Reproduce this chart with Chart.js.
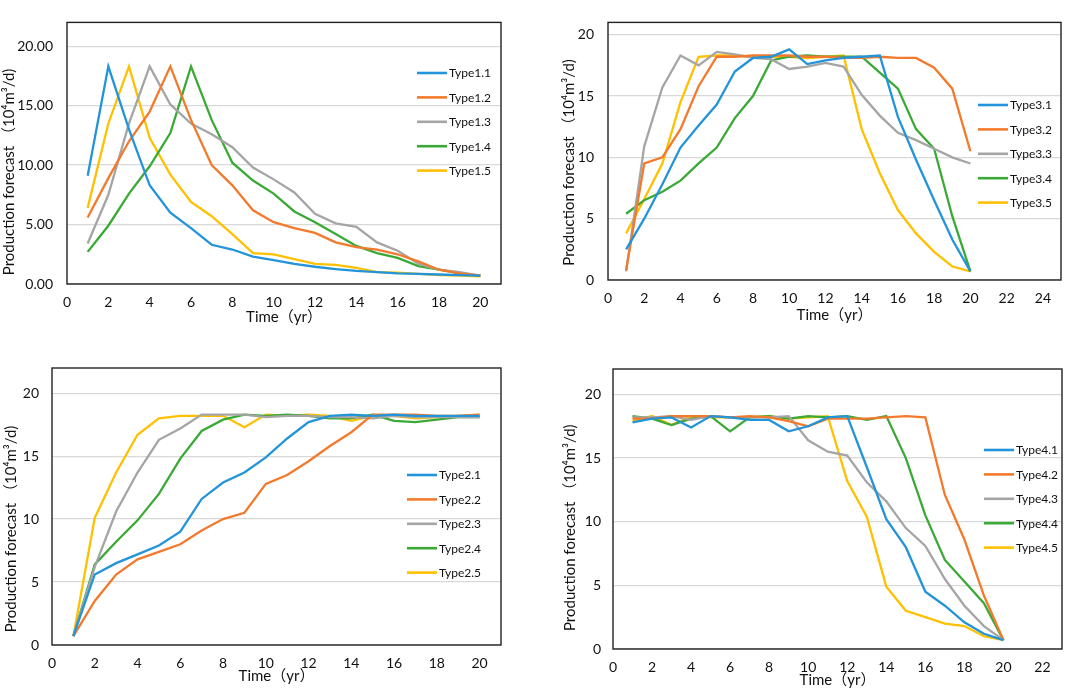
<!DOCTYPE html>
<html>
<head>
<meta charset="utf-8">
<script src="https://cdn.jsdelivr.net/npm/chart.js@4.4.1/dist/chart.umd.min.js"></script>
<style>
  html, body { margin: 0; padding: 0; background: #fff; }
  body { width: 1065px; height: 688px; position: relative; overflow: hidden; }
  .panel { position: absolute; }
</style>
</head>
<body>
<div class="panel" style="left:0px;top:0px;width:530px;height:326px"><canvas id="c1"></canvas></div>
<div class="panel" style="left:560px;top:0px;width:505px;height:324px"><canvas id="c2"></canvas></div>
<div class="panel" style="left:2px;top:340px;width:530px;height:345px"><canvas id="c3"></canvas></div>
<div class="panel" style="left:561px;top:340px;width:504px;height:349px"><canvas id="c4"></canvas></div>
<script>
const years = [1,2,3,4,5,6,7,8,9,10,11,12,13,14,15,16,17,18,19,20];

// Type 1 (decline after peak)
const type1_1 = [9.1,18.3,13.0,8.3,6.0,4.7,3.3,2.9,2.3,2.0,1.7,1.45,1.25,1.1,1.0,0.9,0.85,0.8,0.75,0.7];
const type1_2 = [5.6,8.9,12.0,14.5,18.3,13.8,10.0,8.3,6.2,5.2,4.7,4.3,3.5,3.1,2.9,2.5,1.9,1.2,0.9,0.7];
const type1_3 = [3.4,7.5,13.5,18.3,15.1,13.5,12.6,11.5,9.8,8.8,7.7,5.9,5.1,4.8,3.5,2.8,1.7,1.2,1.0,0.7];
const type1_4 = [2.7,4.9,7.6,9.9,12.7,18.3,13.8,10.2,8.7,7.6,6.1,5.2,4.2,3.2,2.6,2.2,1.5,1.2,0.9,0.7];
const type1_5 = [6.4,13.5,18.3,12.3,9.2,6.9,5.7,4.2,2.6,2.5,2.1,1.7,1.6,1.35,1.0,0.95,0.85,0.75,0.7,0.65];

// Type 2 (ramp up to plateau)
const type2_1 = [0.7,5.6,6.5,7.2,7.9,9.0,11.6,12.9,13.7,14.9,16.4,17.7,18.2,18.3,18.2,18.3,18.2,18.2,18.2,18.2];
const type2_2 = [0.7,3.5,5.6,6.8,7.4,8.0,9.1,10.0,10.5,12.8,13.5,14.6,15.8,16.9,18.3,18.3,18.3,18.2,18.2,18.3];
const type2_3 = [0.7,6.2,10.6,13.7,16.3,17.2,18.3,18.3,18.3,18.1,18.2,18.2,18.1,18.1,18.0,18.2,18.1,18.1,18.1,18.1];
const type2_4 = [0.7,6.4,8.2,9.9,12.0,14.8,17.0,17.9,18.3,18.2,18.3,18.2,18.0,18.0,18.3,17.8,17.7,17.9,18.1,18.1];
const type2_5 = [0.7,10.1,13.7,16.7,18.0,18.2,18.2,18.2,17.3,18.3,18.2,18.3,18.2,17.8,18.2,18.2,18.0,18.1,18.2,18.3];

// Type 3 (build up, plateau, decline)
const type3_1 = [2.5,5.0,7.8,10.8,12.6,14.3,17.0,18.1,18.2,18.8,17.6,17.9,18.1,18.2,18.3,13.3,9.8,6.5,3.3,0.7];
const type3_2 = [0.8,9.5,10.0,12.3,15.8,18.2,18.2,18.3,18.3,18.3,18.2,18.2,18.1,18.1,18.2,18.1,18.1,17.3,15.6,10.5];
const type3_3 = [0.7,10.9,15.7,18.3,17.5,18.6,18.4,18.1,18.0,17.2,17.4,17.7,17.4,15.1,13.4,12.0,11.4,10.7,10.0,9.5];
const type3_4 = [5.4,6.5,7.2,8.1,9.5,10.8,13.2,15.0,17.9,18.2,18.3,18.2,18.2,18.2,16.9,15.6,12.3,10.7,5.2,0.7];
const type3_5 = [3.8,6.6,9.5,14.5,18.2,18.3,18.3,18.2,18.2,18.2,18.1,18.2,18.3,12.3,8.7,5.7,3.8,2.3,1.1,0.7];

// Type 4 (long plateau, late decline)
const type4_1 = [17.8,18.1,18.2,17.4,18.3,18.2,18.0,18.0,17.1,17.5,18.2,18.3,14.3,10.2,8.0,4.5,3.4,2.1,1.2,0.7];
const type4_2 = [18.1,18.1,18.3,18.3,18.3,18.2,18.3,18.2,17.9,17.5,18.1,18.1,18.1,18.2,18.3,18.2,12.1,8.6,4.2,0.7];
const type4_3 = [18.2,18.2,18.3,18.0,18.3,18.2,18.2,18.2,18.3,16.4,15.5,15.2,13.1,11.6,9.5,8.1,5.5,3.4,1.8,0.7];
const type4_4 = [18.3,18.1,17.6,18.1,18.3,17.1,18.2,18.3,18.1,18.3,18.2,18.3,18.0,18.3,15.0,10.5,7.0,5.3,3.6,0.7];
const type4_5 = [17.9,18.3,17.6,18.3,18.2,18.2,18.2,18.3,18.1,18.2,18.3,13.2,10.4,4.9,3.0,2.5,2.0,1.8,1.0,0.7];

const seriesColors = ["#2394d9", "#f37a2c", "#a5a5a5", "#3aa936", "#ffc000"];
const fontFamily = 'Lato, "Noto Sans CJK SC", "DejaVu Sans", sans-serif';
const gridColor = "#d9d9d9";
const textColor = "#111";

// frame around plot area + legend drawn inside it
const framePlugin = {
  id: "frame",
  afterDraw(chart) {
    const a = chart.chartArea, ctx = chart.ctx;
    ctx.save();
    ctx.strokeStyle = "#222";
    ctx.lineWidth = 1.4;
    ctx.strokeRect(a.left, a.top, a.right - a.left, a.bottom - a.top);
    ctx.restore();
  }
};
const insideLegend = {
  id: "insideLegend",
  afterDraw(chart, args, opts) {
    const ctx = chart.ctx;
    ctx.save();
    ctx.font = `${opts.size}px ${fontFamily}`;
    ctx.textBaseline = "middle";
    chart.data.datasets.forEach((ds, i) => {
      const y = opts.y + i * opts.gap;
      ctx.strokeStyle = ds.borderColor;
      ctx.lineWidth = 2.6;
      ctx.beginPath();
      ctx.moveTo(opts.x, y);
      ctx.lineTo(opts.x + 30, y);
      ctx.stroke();
      ctx.fillStyle = textColor;
      ctx.fillText(ds.label, opts.x + 32, y + 0.5);
    });
    ctx.restore();
  }
};

function makePanel(canvasId, labels, series, p) {
  const ctx = document.getElementById(canvasId).getContext("2d");
  new Chart(ctx, {
    type: "line",
    data: {
      labels: years,
      datasets: series.map((d, i) => ({
        label: labels[i],
        data: d,
        borderColor: seriesColors[i],
        backgroundColor: seriesColors[i],
        borderWidth: 2.3,
        pointRadius: 0,
        tension: 0,
        fill: false
      }))
    },
    options: {
      responsive: true, maintainAspectRatio: false,
      animation: false,
      layout: { padding: { top: p.top, right: p.right, left: 0, bottom: 0 } },
      plugins: {
        legend: { display: false },
        tooltip: { enabled: false },
        insideLegend: { x: p.legX, y: p.legY, gap: 24.4, size: 12 }
      },
      scales: {
        x: {
          type: "linear", min: 0, max: p.xMax,
          afterFit: s => { s.height = p.xH; },
          grid: { display: false, drawTicks: false },
          border: { display: false },
          ticks: { stepSize: 2, includeBounds: false, autoSkip: false, maxRotation: 0,
                   padding: 10, color: textColor, font: { family: fontFamily, size: 14 } },
          title: { display: true, text: "Time（yr）", color: textColor, padding: 0,
                   font: { family: fontFamily, size: 15 } }
        },
        y: {
          min: 0, max: p.yMax,
          afterFit: s => { s.width = p.yW; },
          grid: { color: gridColor, lineWidth: 1.2, drawTicks: false },
          border: { display: false },
          ticks: { stepSize: 5, includeBounds: false, padding: p.yPad, color: textColor,
                   font: { family: fontFamily, size: 14 },
                   callback: v => p.decimals ? v.toFixed(2) : String(v) },
          title: { display: true, text: "Production forecast （10⁴m³/d)" + "\u2002".repeat(p.shift),
                   color: textColor, padding: 0, font: { family: fontFamily, size: 15 } }
        }
      }
    },
    plugins: [framePlugin, insideLegend]
  });
}

makePanel("c1", ["Type1.1","Type1.2","Type1.3","Type1.4","Type1.5"],
  [type1_1, type1_2, type1_3, type1_4, type1_5],
  { top: 17, right: 29, yW: 67, xH: 42, xMax: 21, yMax: 22, yPad: 14, decimals: true, shift: 5, legX: 417, legY: 73 });

makePanel("c2", ["Type3.1","Type3.2","Type3.3","Type3.4","Type3.5"],
  [type3_1, type3_2, type3_3, type3_4, type3_5],
  { top: 1, right: 4, yW: 48, xH: 44, xMax: 25, yMax: 21, yPad: 14, decimals: false, shift: 3, legX: 418, legY: 105 });

makePanel("c3", ["Type2.1","Type2.2","Type2.3","Type2.4","Type2.5"],
  [type2_1, type2_2, type2_3, type2_4, type2_5],
  { top: 28, right: 31, yW: 50, xH: 40, xMax: 21, yMax: 22, yPad: 13, decimals: false, shift: 6, legX: 405, legY: 135 });

makePanel("c4", ["Type4.1","Type4.2","Type4.3","Type4.4","Type4.5"],
  [type4_1, type4_2, type4_3, type4_4, type4_5],
  { top: 29, right: 3, yW: 52, xH: 40, xMax: 23, yMax: 22, yPad: 12, decimals: false, shift: 5, legX: 423, legY: 110 });
</script>
</body>
</html>
